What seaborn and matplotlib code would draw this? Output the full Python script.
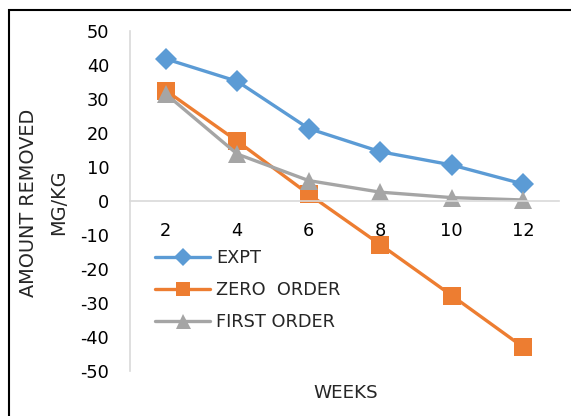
import matplotlib
matplotlib.use("Agg")
import matplotlib.pyplot as plt
from matplotlib.patches import Rectangle
import seaborn as sns
import pandas as pd

weeks = [2, 4, 6, 8, 10, 12]
expt = [41.8, 35.2, 21.3, 14.5, 10.6, 5.0]
zero_order = [32.5, 17.6, 2.0, -12.8, -27.8, -43.0]
first_order = [31.5, 13.8, 6.0, 2.6, 1.0, 0.3]
series_names = ["EXPT", "ZERO  ORDER", "FIRST ORDER"]
y_ticks = [50, 40, 30, 20, 10, 0, -10, -20, -30, -40, -50]

colors = ["#5B9BD5", "#ED7D31", "#A5A5A5"]
markers = ["D", "s", "^"]
msizes = [11.5, 13, 13.5]

sns.set_style("white")
plt.rcParams["font.family"] = ["DejaVu Sans"]
plt.rcParams["axes.unicode_minus"] = False

W, H = 571, 416

df = pd.DataFrame({
    "week": weeks * 3,
    "value": expt + zero_order + first_order,
    "series": [s for s in series_names for _ in weeks],
})

fig = plt.figure(figsize=(W / 100, H / 100), dpi=100)
ax = fig.add_axes([130 / W, 1 - 371 / H, 429 / W, 340 / H])

for name, c, m, ms in zip(series_names, colors, markers, msizes):
    sub = df[df["series"] == name]
    sns.lineplot(data=sub, x="week", y="value", ax=ax, color=c, marker=m,
                 markersize=ms, markeredgewidth=0, linewidth=2.4, label=name)

ax.set_xlim(1, 13)
ax.set_ylim(-50, 50)
ax.set_yticks(y_ticks)
ax.set_yticklabels([str(t) for t in y_ticks])
ax.set_xticks(weeks)
ax.set_xticklabels([str(w) for w in weeks])

for side in ["top", "right"]:
    ax.spines[side].set_visible(False)
ax.spines["bottom"].set_position(("data", 0))
ax.spines["bottom"].set_color("#D9D9D9")
ax.spines["bottom"].set_linewidth(1.2)
ax.spines["left"].set_color("#D9D9D9")
ax.spines["left"].set_linewidth(1.2)
ax.tick_params(axis="both", length=0, labelsize=12.8, colors="black")
ax.tick_params(axis="y", pad=15)
ax.tick_params(axis="x", pad=15)

ax.set_xlabel("")
ax.set_ylabel("")
fig.text(346 / W, 1 - 393 / H, "WEEKS", ha="center", va="center", fontsize=13.2)
fig.text(29 / W, 1 - 203 / H, "AMOUNT REMOVED", ha="center", va="center",
         rotation=90, fontsize=13.9)
fig.text(59 / W, 1 - 202 / H, "MG/KG", ha="center", va="center",
         rotation=90, fontsize=13.9)

leg = ax.legend(loc="upper left", bbox_to_anchor=(155 / W, 1 - 249 / H),
                bbox_transform=fig.transFigure, frameon=False, fontsize=12.8,
                handlelength=3.1, handletextpad=0.34, labelspacing=0.8,
                borderpad=0, borderaxespad=0, markerscale=0.8)

fig.patches.append(Rectangle((9 / W, -0.1), 1.0, 1 - 10 / H + 0.1,
                             transform=fig.transFigure, fill=False,
                             edgecolor="black", linewidth=1.5))

fig.savefig("out.png", dpi=100)
